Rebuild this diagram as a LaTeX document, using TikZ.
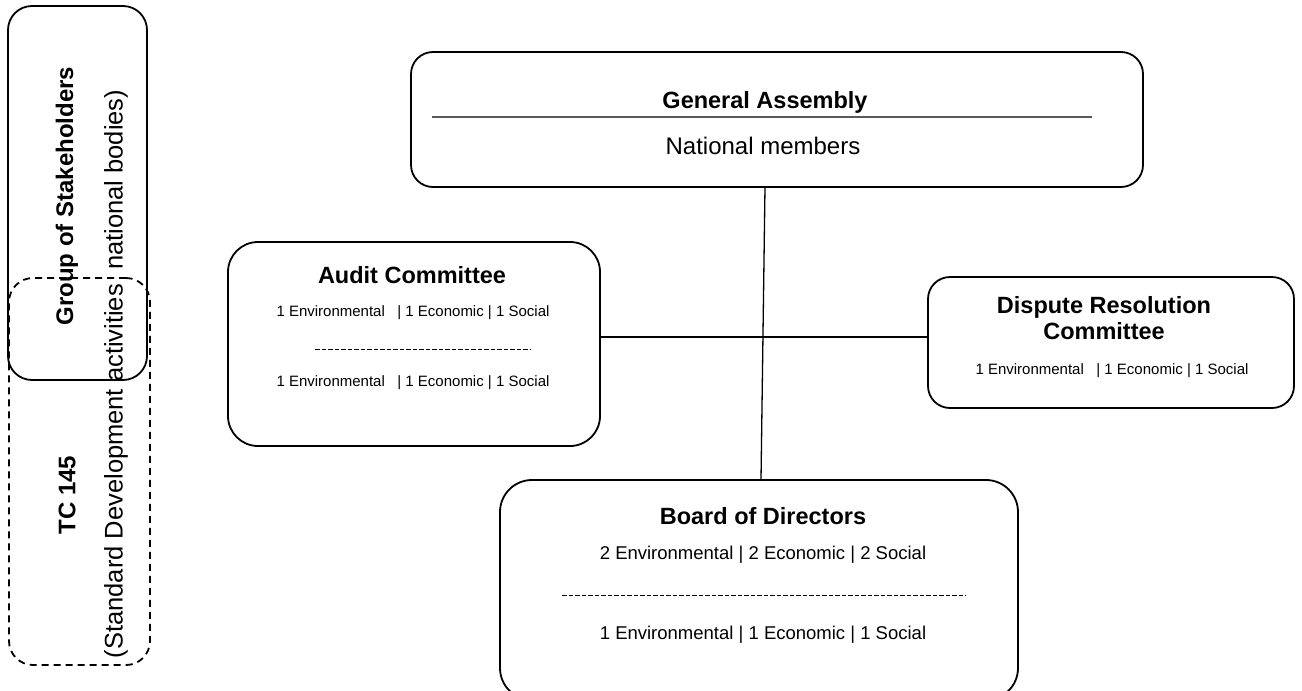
\documentclass[tikz,border=0pt]{standalone}
\usepackage{fontspec}
\setmainfont{Liberation Sans}
\usetikzlibrary{positioning}

\begin{document}
\begin{tikzpicture}[
        x=1pt, y=-1pt,
        box/.style = {
            draw,
            rounded corners = #1,
            line width = 1.8pt,
            inner sep = 0pt,
            outer sep = 0pt
        },
        box/.default = 24pt,
        head/.style = {font=\fontsize{23.5}{26}\selectfont\bfseries, align=center, inner sep=0pt},
        txt/.style = {font=\fontsize{#1}{#1}\selectfont, inner sep=0pt},
        txt/.default = 15,
        dashrule/.style = {line width=1pt, dash pattern=on 4.5pt off 2pt},
        link/.style = {line width=1.3pt}
            ]
            \useasboundingbox (0,0) rectangle (1302,691);
            
            % left side
            \node[box, minimum width=139pt, minimum height=374pt] (stake) at (77.5,193) {};
            \node[box, dash pattern=on 7pt off 5pt, minimum width=141pt, minimum height=387pt] (tc) at (79.5,471.5) {};
            \node[head, rotate=90, font=\fontsize{24}{26}\selectfont\bfseries] (stakename) at (67,196) {Group of Stakeholders};
            \node[head, rotate=90, font=\fontsize{24}{26}\selectfont\bfseries] (tcname) at (67,495) {TC 145};
            \node[txt=25.5, rotate=90] (sda) at (116,374) {(Standard Development activities\ \ national bodies)};
            
            % general assembly
            \node[box=22pt, minimum width=732pt, minimum height=135pt] (ga) at (777,119.5) {};
            \node[head] (gatitle) at (765,102) {General Assembly};
            \coordinate (gal) at (432,117);
            \coordinate (gar) at (1092,117);
            \draw[line width=2.2pt, black!65] (gal) -- (gar);
            \node[txt=24] (gamembers) at (763,146) {National members};
            
            % audit committee
            \node[box=30pt, minimum width=372pt, minimum height=204pt] (audit) at (414,344) {};
            \node[head] (audittitle) at (412,275) {Audit Committee};
            \node[txt] (audit1) at (413,313) {1 Environmental\ \ \ | 1 Economic | 1 Social};
            \coordinate (auditl) at (315,349);
            \coordinate (auditr) at (530,349);
            \draw[dashrule] (auditl) -- (auditr);
            \node[txt] (audit2) at (413,383) {1 Environmental\ \ \ | 1 Economic | 1 Social};
            
            % dispute resolution committee
            \node[box=22pt, minimum width=366pt, minimum height=131pt] (dispute) at (1111,342.5) {};
            \node[head] (disputetitle) at (1104,318.5) {Dispute Resolution\\Committee};
            \node[txt] (dispute1) at (1112,371) {1 Environmental\ \ \ | 1 Economic | 1 Social};
            
            % board of directors
            \node[box=32pt, minimum width=518pt, minimum height=220pt] (board) at (759,590) {};
            \node[head] (boardtitle) at (763,516) {Board of Directors};
            \node[txt=18.5] (board1) at (763,555) {2 Environmental | 2 Economic | 2 Social};
            \coordinate (boardl) at (562,595);
            \coordinate (boardr) at (966,595);
            \draw[dashrule] (boardl) -- (boardr);
            \node[txt=18.5] (board2) at (763,635) {1 Environmental | 1 Economic | 1 Social};
            
            \draw[link] ([xshift=-12pt]ga.south) -- ([xshift=2pt]board.north);
            \draw[link] ([yshift=7pt]audit.east) -- ([yshift=5.5pt]dispute.west);
            
        \end{tikzpicture}
\end{document}
